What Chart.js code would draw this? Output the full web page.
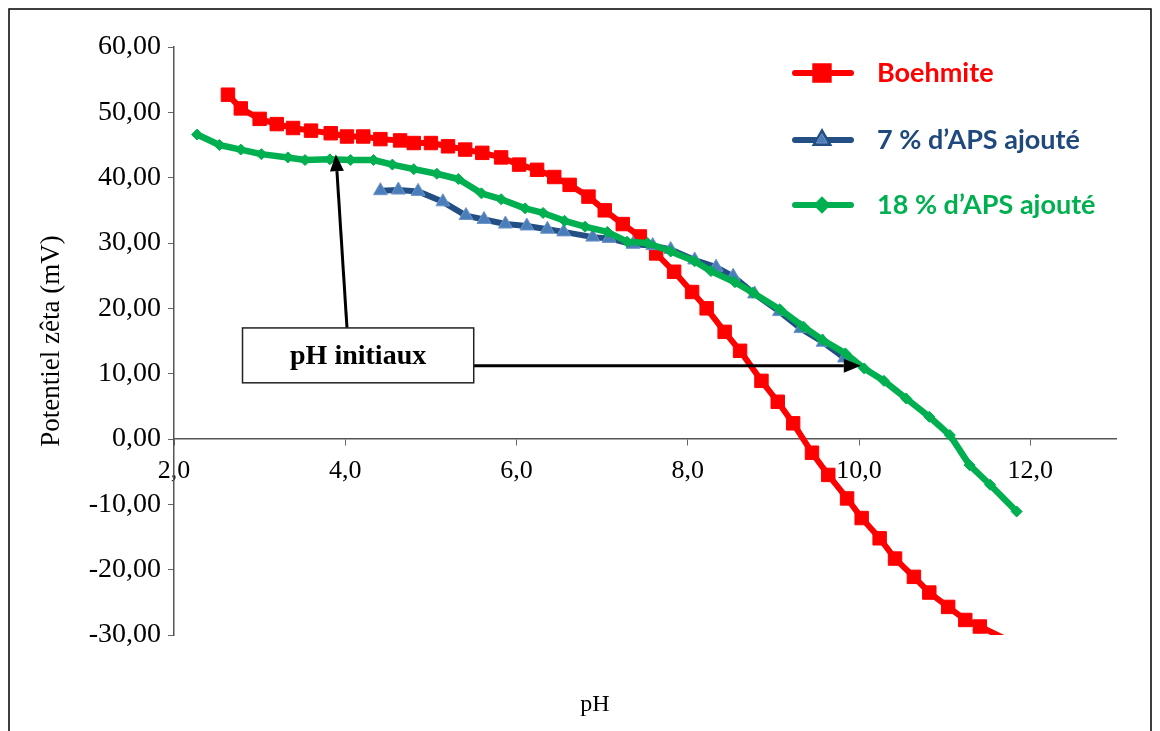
<!DOCTYPE html>
<html>
<head>
<meta charset="utf-8">
<script src="https://cdn.jsdelivr.net/npm/chart.js@4.4.1/dist/chart.umd.min.js"></script>
<style>
  html, body { margin: 0; padding: 0; background: #fff; }
</style>
</head>
<body>
<canvas id="zetaChart" width="1160" height="731"></canvas>
<script>
// Zeta potential vs pH
const boehmitePH = [2.63, 2.78, 3.0, 3.2, 3.39, 3.6, 3.83, 4.02, 4.21, 4.41, 4.64, 4.8, 5.0, 5.2, 5.4, 5.6,
  5.82, 6.03, 6.24, 6.44, 6.62, 6.84, 7.03, 7.24, 7.44, 7.63, 7.84, 8.05, 8.22, 8.43, 8.61, 8.86, 9.05,
  9.23, 9.45, 9.64, 9.86, 10.03, 10.24, 10.42, 10.64, 10.82, 11.04, 11.24, 11.41, 11.85];
const boehmiteZeta = [52.7, 50.6, 49.0, 48.2, 47.6, 47.2, 46.8, 46.3, 46.3, 45.9, 45.7, 45.3, 45.3, 44.8, 44.3, 43.8,
  43.1, 42.0, 41.2, 40.1, 38.9, 37.1, 35.0, 32.9, 31.0, 28.4, 25.6, 22.5, 20.0, 16.4, 13.5, 8.9, 5.7,
  2.4, -2.1, -5.5, -9.1, -12.1, -15.2, -18.3, -21.1, -23.5, -25.7, -27.7, -28.7, -31.5];

const aps7PH = [4.41, 4.62, 4.85, 5.14, 5.41, 5.62, 5.87, 6.12, 6.36, 6.55, 6.89, 7.08, 7.36, 7.59, 7.8,
  8.08, 8.33, 8.53, 8.78, 9.07, 9.32, 9.58, 9.83];
const aps7Zeta = [38.0, 38.1, 37.9, 36.3, 34.2, 33.6, 32.9, 32.6, 32.1, 31.7, 30.9, 30.7, 29.8, 29.6, 29.0,
  27.4, 26.3, 24.9, 22.2, 19.5, 16.9, 14.8, 12.4];

const aps18PH = [2.27, 2.53, 2.78, 3.02, 3.33, 3.53, 3.82, 4.06, 4.33, 4.55, 4.8, 5.07, 5.32, 5.59, 5.82,
  6.1, 6.31, 6.56, 6.8, 7.06, 7.29, 7.53, 7.8, 8.08, 8.27, 8.55, 8.76, 9.08, 9.35, 9.57, 9.84, 10.06,
  10.29, 10.55, 10.82, 11.06, 11.29, 11.53, 11.84];
const aps18Zeta = [46.6, 45.0, 44.3, 43.6, 43.1, 42.7, 42.8, 42.7, 42.7, 42.0, 41.3, 40.6, 39.8, 37.6, 36.7,
  35.3, 34.6, 33.4, 32.5, 31.7, 30.2, 30.0, 28.7, 27.2, 25.7, 24.0, 22.4, 19.8, 17.2, 15.2, 13.1, 10.8,
  8.9, 6.2, 3.4, 0.6, -4.0, -7.0, -11.1];

const seriesNames = ["Boehmite", "7 % d\u2019APS ajouté", "18 % d\u2019APS ajouté"];
const xTickValues = [2, 4, 6, 8, 10, 12];
const yTickValues = [-30, -20, -10, 0, 10, 20, 30, 40, 50, 60];

const toPoints = (xs, ys) => xs.map((x, i) => ({ x: x, y: ys[i] }));

// legend drawn inside the plot, at the top right
const legendPlugin = {
  id: "insideLegend",
  afterDraw(chart) {
    const ctx = chart.ctx;
    const rows = [73, 140, 205];
    const textColors = ["#ff0000", "#1f497d", "#00b050"];
    const markerSize = [9.5, 6, 4.5];
    chart.data.datasets.forEach((ds, i) => {
      const y = rows[i];
      ctx.save();
      ctx.strokeStyle = ds.borderColor;
      ctx.lineWidth = 6;
      ctx.lineCap = "round";
      ctx.beginPath();
      ctx.moveTo(795, y);
      ctx.lineTo(851, y);
      ctx.stroke();
      Chart.helpers.drawPoint(ctx, {
        pointStyle: ds.pointStyle,
        radius: markerSize[i],
        borderWidth: ds.pointBorderWidth,
        rotation: 0
      }, 822, y);
      ctx.fillStyle = ds.pointBackgroundColor;
      ctx.strokeStyle = ds.pointBorderColor;
      ctx.lineWidth = ds.pointBorderWidth;
      ctx.fill();
      ctx.stroke();
      ctx.fillStyle = textColors[i];
      ctx.font = "bold 27px Lato";
      ctx.textBaseline = "middle";
      ctx.textAlign = "left";
      ctx.fillText(ds.label, 877, y);
      ctx.restore();
    });
  }
};

function arrow(ctx, x1, y1, x2, y2) {
  const ang = Math.atan2(y2 - y1, x2 - x1);
  const len = 17, half = 7;
  const bx = x2 - len * Math.cos(ang), by = y2 - len * Math.sin(ang);
  ctx.beginPath();
  ctx.moveTo(x1, y1);
  ctx.lineTo(bx, by);
  ctx.stroke();
  ctx.beginPath();
  ctx.moveTo(x2, y2);
  ctx.lineTo(bx + half * Math.sin(ang), by - half * Math.cos(ang));
  ctx.lineTo(bx - half * Math.sin(ang), by + half * Math.cos(ang));
  ctx.closePath();
  ctx.fill();
}

// "pH initiaux" callout, outer frame and the x title
const extrasPlugin = {
  id: "extras",
  beforeDraw(chart) {
    const ctx = chart.ctx;
    ctx.save();
    ctx.fillStyle = "#fff";
    ctx.fillRect(0, 0, chart.width, chart.height);
    ctx.restore();
  },
  afterDraw(chart) {
    const ctx = chart.ctx;
    const x = chart.scales.x, y = chart.scales.y;
    ctx.save();
    ctx.strokeStyle = "#000";
    ctx.fillStyle = "#000";
    ctx.lineWidth = 3;
    arrow(ctx, x.getPixelForValue(4.02), y.getPixelForValue(17.0), x.getPixelForValue(3.89), y.getPixelForValue(43.6));
    arrow(ctx, x.getPixelForValue(5.5), y.getPixelForValue(11.2), x.getPixelForValue(10.02), y.getPixelForValue(11.2));

    const bl = x.getPixelForValue(2.8), br = x.getPixelForValue(5.5);
    const bt = y.getPixelForValue(17.0), bb = y.getPixelForValue(8.6);
    ctx.fillStyle = "#fff";
    ctx.fillRect(bl, bt, br - bl, bb - bt);
    ctx.lineWidth = 1.5;
    ctx.strokeStyle = "#222";
    ctx.strokeRect(bl, bt, br - bl, bb - bt);
    ctx.fillStyle = "#000";
    ctx.font = "bold 28px 'Liberation Serif'";
    ctx.textAlign = "center";
    ctx.textBaseline = "middle";
    ctx.fillText("pH initiaux", (bl + br) / 2, (bt + bb) / 2 + 1);

    ctx.font = "24px 'Liberation Serif'";
    ctx.fillText("pH", 595, 705);

    ctx.strokeStyle = "#000";
    ctx.lineWidth = 1.5;
    ctx.strokeRect(9, 9, 1142, 800);
    ctx.restore();
  }
};

const ctx = document.getElementById("zetaChart").getContext("2d");
const zetaChart = new Chart(ctx, {
  type: "line",
  data: {
    datasets: [
      {
        label: seriesNames[0],
        data: toPoints(boehmitePH, boehmiteZeta),
        borderColor: "#ff0000",
        borderWidth: 6,
        pointStyle: "rect",
        pointRadius: 9.5,
        pointBorderWidth: 1,
        pointBackgroundColor: "#ff0000",
        pointBorderColor: "#ff0000",
        clip: 0,
        order: 2
      },
      {
        label: seriesNames[1],
        data: toPoints(aps7PH, aps7Zeta),
        borderColor: "#234f85",
        borderWidth: 6,
        pointStyle: "triangle",
        pointRadius: 8,
        pointBorderWidth: 1,
        pointBackgroundColor: "#4a7ebb",
        pointBorderColor: "#6f95c8",
        clip: 0,
        order: 1
      },
      {
        label: seriesNames[2],
        data: toPoints(aps18PH, aps18Zeta),
        borderColor: "#00b050",
        borderWidth: 6.5,
        pointStyle: "rectRot",
        pointRadius: 5.5,
        pointBorderWidth: 1,
        pointBackgroundColor: "#00b050",
        pointBorderColor: "#00b050",
        clip: 0,
        order: 0
      }
    ]
  },
  options: {
    responsive: false,
    animation: false,
    layout: { padding: { top: 47, right: 44, bottom: 96, left: 0 } },
    plugins: {
      legend: { display: false },
      tooltip: { enabled: false }
    },
    elements: {
      line: { tension: 0, borderJoinStyle: "round", borderCapStyle: "round" }
    },
    scales: {
      x: {
        type: "linear",
        position: { y: 0 },
        min: 2,
        max: 13,
        afterBuildTicks: (scale) => { scale.ticks = xTickValues.map((v) => ({ value: v })); },
        grid: { drawOnChartArea: false, drawTicks: true, tickLength: 6, color: "#666" },
        border: { color: "#555", width: 1.5 },
        ticks: {
          color: "#000",
          font: { family: "'Liberation Serif'", size: 26 },
          padding: 11,
          maxRotation: 0,
          callback: (v) => v.toFixed(1).replace(".", ",")
        }
      },
      y: {
        type: "linear",
        min: -30,
        max: 60,
        afterBuildTicks: (scale) => { scale.ticks = yTickValues.map((v) => ({ value: v })); },
        afterFit: (scale) => { scale.width = 174; },
        grid: { drawOnChartArea: false, drawTicks: true, tickLength: 6, color: "#666" },
        border: { color: "#555", width: 1.5 },
        title: {
          display: true,
          text: "Potentiel zêta (mV)",
          color: "#000",
          font: { family: "'Liberation Serif'", size: 27 },
          padding: { top: 36, bottom: 0 }
        },
        ticks: {
          color: "#000",
          font: { family: "'Liberation Serif'", size: 28 },
          padding: 7,
          callback: (v) => v.toFixed(2).replace(".", ",")
        }
      }
    }
  },
  plugins: [extrasPlugin, legendPlugin]
});
</script>
</body>
</html>
